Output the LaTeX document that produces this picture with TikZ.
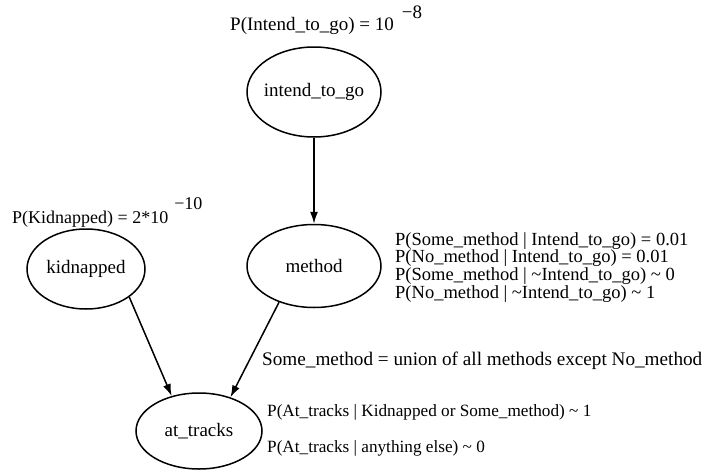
\documentclass[tikz,border=0pt]{standalone}
\usepackage{fontspec}
\setmainfont{Liberation Serif}
\usetikzlibrary{arrows.meta,shapes.geometric}
\tikzset{
  bnode/.style={draw, ellipse, line width=1.5pt, inner sep=0pt, font=\fontsize{19}{19}\selectfont},
  edge/.style={draw, line width=1.5pt, -{Latex[length=12pt,width=8pt]}},
  lbl/.style={anchor=base west, inner sep=0pt, font=\fontsize{19}{16}\selectfont},
}
\newcommand{\fixw}[1]{\raisebox{-3pt}{\makebox[0pt]{#1}}}
\begin{document}
\begin{tikzpicture}[x=1pt,y=1pt]
\useasboundingbox (0,0) rectangle (704,-471);
\node[bnode, minimum width=134, minimum height=90] (intend) at (314,-92) {\fixw{intend\_to\_go}};
\node[bnode, minimum width=118, minimum height=80] (kid) at (86,-269) {\fixw{kidnapped}};
\node[bnode, minimum width=134, minimum height=83] (meth) at (314,-266) {\fixw{method}};
\node[bnode, minimum width=126, minimum height=76] (at) at (199,-431) {\fixw{at\_tracks}};
\draw[edge] (intend) -- (meth);
\draw[edge] (kid.327) -- (at.128);
\draw[edge] (meth.226) -- (at.47);
\node[lbl] (lp1) at (230,-30) {P(Intend\_to\_go) = 10\hspace{8pt}\raisebox{12pt}{−8}};
\node[lbl, font=\fontsize{18}{16}\selectfont] (lp2) at (12,-223) {P(Kidnapped) = 2*10\hspace{6pt}\raisebox{14pt}{−10}};
\node[lbl, align=left, anchor=north west, font=\fontsize{18.5}{16}\selectfont] (lm) at (395,-232) {P(Some\_method | Intend\_to\_go) = 0.01\\
P(No\_method | Intend\_to\_go) = 0.01\\
P(Some\_method | \textasciitilde Intend\_to\_go) \textasciitilde\ 0\\
P(No\_method | \textasciitilde Intend\_to\_go) \textasciitilde\ 1};
\node[lbl, font=\fontsize{19.2}{16}\selectfont] (ls) at (262,-365) {Some\_method = union of all methods except No\_method};
\node[lbl, font=\fontsize{17.2}{16}\selectfont] (la1) at (267,-416) {P(At\_tracks | Kidnapped or Some\_method) \textasciitilde\ 1};
\node[lbl, font=\fontsize{17.2}{16}\selectfont] (la2) at (267,-452) {P(At\_tracks | anything else) \textasciitilde\ 0};
\end{tikzpicture}
\end{document}
